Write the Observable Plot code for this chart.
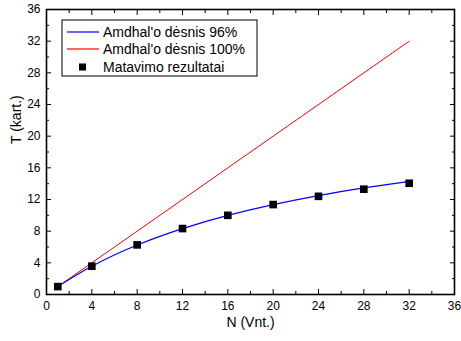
<!DOCTYPE html>
<html>
<head>
<meta charset="utf-8">
<script src="https://cdn.jsdelivr.net/npm/d3@7"></script>
<script src="https://cdn.jsdelivr.net/npm/@observablehq/plot@0.6"></script>
<style>
  body { margin: 0; background: #fff; }
  #chart svg { display: block; }
</style>
</head>
<body>
<div id="chart"></div>
<script>
// Processor counts
const nodes = [1, 4, 8, 12, 16, 20, 24, 28, 32];
// Amdahl's law speedup with a 96% parallel fraction
const amdahl96 = [1, 3.57, 6.25, 8.33, 10.0, 11.36, 12.5, 13.46, 14.29];
// Ideal (100% parallel) speedup endpoints
const idealN = [1, 32];
const ideal100 = [1, 32];
// Measured speedups
const measured = [1.0, 3.58, 6.27, 8.33, 10.0, 11.36, 12.4, 13.3, 14.05];

const majorTicks = d3.range(0, 37, 4);
const minorTicks = d3.range(2, 36, 4);

const seriesLabels = ["Amdhal'o dėsnis 96%", "Amdhal'o dėsnis 100%", "Matavimo rezultatai"];

const curve96 = nodes.map((n, i) => ({n, t: amdahl96[i]}));
const curve100 = idealN.map((n, i) => ({n, t: ideal100[i]}));
const points = nodes.map((n, i) => ({n, t: measured[i]}));

const font = "Liberation Sans, Arial, sans-serif";

const plot = Plot.plot({
  width: 461,
  height: 341,
  marginLeft: 46,
  marginRight: 7,
  marginTop: 9,
  marginBottom: 47,
  style: {fontFamily: font, fontSize: "12px", color: "#000", background: "#fff"},
  x: {domain: [0, 36]},
  y: {domain: [0, 36]},
  marks: [
    Plot.line(curve100, {x: "n", y: "t", stroke: "#ff0000", strokeWidth: 1}),
    Plot.line(curve96, {x: "n", y: "t", stroke: "#0000ff", strokeWidth: 1.2, curve: "natural"}),
    Plot.dot(points, {x: "n", y: "t", symbol: "square", r: 4.3, fill: "#000", stroke: "none"}),
    // inward major ticks with labels
    Plot.axisX(majorTicks, {anchor: "bottom", tickSize: -5, tickPadding: 12, label: null, fontSize: 12}),
    Plot.axisY(majorTicks, {anchor: "left", tickSize: -5, tickPadding: 11, label: null, fontSize: 12}),
    Plot.axisX(majorTicks, {anchor: "top", tickSize: -5, tickFormat: () => "", label: null}),
    Plot.axisY(majorTicks, {anchor: "right", tickSize: -5, tickFormat: () => "", label: null}),
    // inward minor ticks
    Plot.axisX(minorTicks, {anchor: "bottom", tickSize: -3, tickFormat: () => "", label: null}),
    Plot.axisY(minorTicks, {anchor: "left", tickSize: -3, tickFormat: () => "", label: null}),
    Plot.axisX(minorTicks, {anchor: "top", tickSize: -3, tickFormat: () => "", label: null}),
    Plot.axisY(minorTicks, {anchor: "right", tickSize: -3, tickFormat: () => "", label: null}),
    Plot.frame({stroke: "#000", strokeWidth: 1.6}),
    Plot.text(["N (Vnt.)"], {frameAnchor: "bottom", dy: 32, fontSize: 14, fill: "#000"}),
    Plot.text(["T (kart.)"], {frameAnchor: "left", dx: -30, dy: -8, rotate: -90, fontSize: 14, fill: "#000"})
  ]
});

// Legend box in the upper-left corner of the plot area
const svg = d3.select(plot);
const lg = svg.append("g").attr("transform", "translate(62,20)");
lg.append("rect").attr("width", 195).attr("height", 56)
  .attr("fill", "#fff").attr("stroke", "#000").attr("stroke-width", 1);
const rows = [
  {y: 12, kind: "line", color: "#0000ff"},
  {y: 29, kind: "line", color: "#ff0000"},
  {y: 47, kind: "square", color: "#000"}
];
rows.forEach((r, i) => {
  if (r.kind === "line") {
    lg.append("line").attr("x1", 5).attr("x2", 37).attr("y1", r.y).attr("y2", r.y)
      .attr("stroke", r.color).attr("stroke-width", 1.2);
  } else {
    lg.append("rect").attr("x", 17).attr("y", r.y - 3.5).attr("width", 7).attr("height", 7)
      .attr("fill", r.color);
  }
  lg.append("text").attr("x", 41).attr("y", r.y).attr("dy", "0.35em")
    .attr("text-anchor", "start")
    .attr("font-family", font).attr("font-size", 14).attr("fill", "#000")
    .text(seriesLabels[i]);
});

document.getElementById("chart").append(plot);
</script>
</body>
</html>
